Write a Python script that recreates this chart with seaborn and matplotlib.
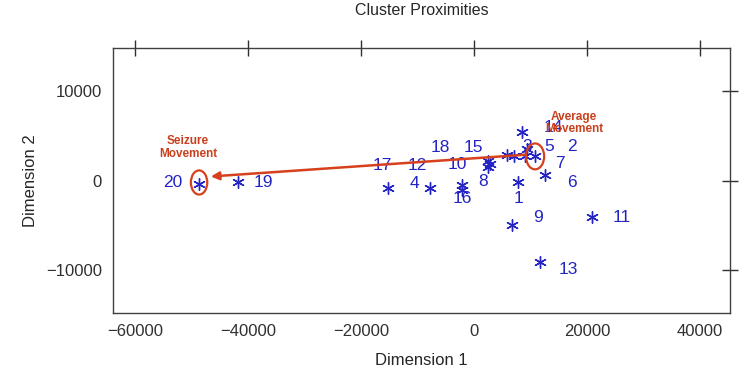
import matplotlib
matplotlib.use("Agg")
import matplotlib.pyplot as plt
from matplotlib.patches import Ellipse
import seaborn as sns
import pandas as pd

# star positions (Dimension 1, Dimension 2)
star_x = [-48670, -41770, -15220, -7790, -2120, -2120, 2480, 2480, 2830, 5840,
          7080, 8500, 9030, 9380, 10800, 12570, 7790, 6730, 11680, 20890]
star_y = [-340, -220, -790, -790, -450, -1010, 2130, 1460, 1800, 2810,
          2700, 5390, 2700, 3480, 2700, 670, -220, -4940, -9100, -4040]

# cluster number labels and where they sit
lab_text = ["20", "19", "17", "12", "18", "15", "10", "4", "8", "16",
            "1", "3", "5", "2", "14", "7", "6", "9", "11", "13"]
lab_x = [-53280, -37350, -16280, -10090, -6020, -180, -3010, -10620, 1590, -2120,
         7790, 9380, 13280, 17350, 13980, 15220, 17350, 11330, 26200, 16640]
lab_y = [-220, -220, 1690, 1690, 3710, 3710, 1800, -340, -110, -2020,
         -2020, 3820, 3820, 3820, 5960, 1910, -220, -4160, -4160, -10000]

# highlighted clusters: average -> seizure
avg_pt = (10800, 2700)
seiz_pt = (-48670, -220)

xticks = [-60000, -40000, -20000, 0, 20000, 40000]
yticks = [-10000, 0, 10000]

blue = "#2424c4"
red = "#d6401c"
red_txt = "#c8401e"

sns.set_style("white")
plt.rcParams['font.family'] = ['Liberation Sans', 'DejaVu Sans']

df = pd.DataFrame({"Dimension 1": star_x, "Dimension 2": star_y})

fig = plt.figure(figsize=(7.46, 3.82), dpi=100)
ax = fig.add_axes([0.1515, 0.1806, 0.8271, 0.6937])

sns.scatterplot(data=df, x="Dimension 1", y="Dimension 2", ax=ax,
                marker=(6, 2, 0), color=blue, s=70, linewidth=1.0, zorder=3)

for t, x, y in zip(lab_text, lab_x, lab_y):
    ax.text(x, y, t, color=blue, fontsize=12.5, ha="center", va="center", zorder=3)

# red circles
ax.add_patch(Ellipse(avg_pt, 3200, 2900, fill=False, edgecolor=red, lw=1.6, zorder=4))
ax.add_patch(Ellipse(seiz_pt, 2900, 2700, fill=False, edgecolor=red, lw=1.6, zorder=4))

# arrow from average movement to seizure movement
ax.annotate("", xy=(seiz_pt[0] + 1600, seiz_pt[1] + 650), xytext=(avg_pt[0] - 1400, avg_pt[1] + 200),
            arrowprops=dict(arrowstyle="-|>", color=red, lw=1.8, mutation_scale=12),
            zorder=5)

ax.text(17700, 6400, "Average\nMovement", color=red_txt, fontsize=8.5, fontweight="bold",
        ha="center", va="center", linespacing=1.0, zorder=5)
ax.text(-50620, 3700, "Seizure\nMovement", color=red_txt, fontsize=8.5, fontweight="bold",
        ha="center", va="center", linespacing=1.05, zorder=5)

ax.set_xlim(-63900, 45300)
ax.set_ylim(-14830, 14830)
ax.set_xticks(xticks)
ax.set_yticks(yticks)
ax.set_xticklabels(["\u2212" + str(-v) if v < 0 else str(v) for v in xticks])
ax.set_yticklabels(["\u2212" + str(-v) if v < 0 else str(v) for v in yticks])
ax.tick_params(direction="inout", length=12, width=1, colors="#303030",
               labelsize=12, top=True, right=True, labeltop=False, labelright=False)
ax.tick_params(axis="x", pad=2)
ax.tick_params(axis="y", pad=2)
for s in ax.spines.values():
    s.set_color("#404040")
    s.set_linewidth(1.0)

ax.set_xlabel("Dimension 1", fontsize=12, labelpad=10)
ax.set_ylabel("Dimension 2", fontsize=12, labelpad=6)
ax.set_title("Cluster Proximities", fontsize=11.5, pad=24)

plt.savefig("out.png", dpi=100)
